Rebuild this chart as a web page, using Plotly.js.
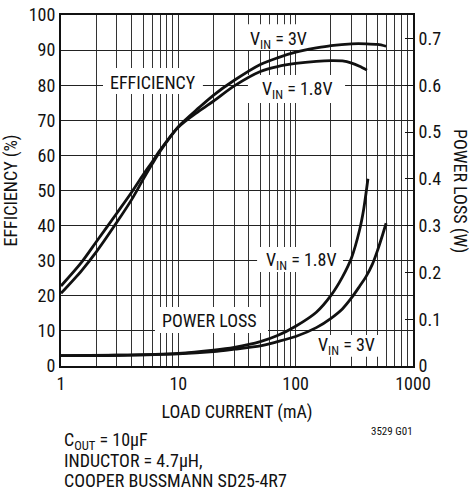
<!DOCTYPE html>
<html>
<head>
<meta charset="utf-8">
<script src="https://cdn.plot.ly/plotly-3.0.1.min.js"></script>
<style>html,body{margin:0;padding:0;background:#fff;}#chart{width:469px;height:493px;}</style>
</head>
<body>
<div id="chart"></div>
<script>
// Efficiency data (load current in mA, efficiency in %)
var effCurrent3V = [1, 1.5, 2, 3, 4, 5, 6, 7, 10, 15, 20, 30, 50, 70, 100, 150, 200, 300, 400, 500, 590];
var eff3V =        [22.8, 29.6, 35.4, 43.6, 49.5, 54.4, 58.2, 61.5, 68.2, 73.6, 77.2, 81.4, 85.9, 87.8, 89.4, 90.6, 91.3, 91.8, 91.8, 91.6, 91.1];
var effCurrent18V = [1, 1.5, 2, 3, 4, 5, 6, 7, 10, 15, 20, 30, 50, 70, 100, 150, 200, 250, 300, 350, 405];
var eff18V =        [20.7, 27.2, 32.5, 41, 47.4, 53.1, 57.6, 61.2, 68.0, 72.6, 75.5, 79.8, 83.9, 85.3, 86.2, 86.8, 87, 86.9, 86.3, 85.4, 84.3];

// Power loss data (load current in mA, loss in W)
var lossCurrent18V = [1, 3, 10, 20, 30, 50, 70, 100, 150, 200, 250, 300, 350, 380, 413];
var loss18V =        [0.022, 0.023, 0.027, 0.034, 0.04, 0.052, 0.065, 0.085, 0.115, 0.151, 0.19, 0.232, 0.29, 0.335, 0.40];
var lossCurrent3V = [1, 3, 10, 20, 30, 50, 70, 100, 150, 200, 250, 300, 350, 400, 450, 500, 550, 590];
var loss3V =        [0.022, 0.023, 0.026, 0.031, 0.036, 0.043, 0.052, 0.063, 0.082, 0.102, 0.122, 0.146, 0.17, 0.192, 0.217, 0.248, 0.28, 0.305];

// Axis ticks
var xTickVals = [];
var xTickText = [];
[1, 10, 100].forEach(function (d) {
  for (var k = 1; k <= 9; k++) {
    xTickVals.push(d * k);
    xTickText.push(k === 1 ? String(d) : '');
  }
});
xTickVals.push(1000); xTickText.push('1000');
var lossTickVals = [0, 0.1, 0.2, 0.3, 0.4, 0.5, 0.6, 0.7];
var lossTickText = ['0', '0.1', '0.2', '0.3', '0.4', '0.5', '0.6', '0.7'];

var FONT = '"Liberation Sans Narrow", "Roboto Condensed", "Liberation Sans", Arial, sans-serif';
var lineStyle = {color: '#111', width: 2.8, shape: 'spline', smoothing: 0.8};

var traces = [
  {x: effCurrent3V, y: eff3V, mode: 'lines', line: lineStyle, name: 'Eff VIN=3V', yaxis: 'y'},
  {x: effCurrent18V, y: eff18V, mode: 'lines', line: lineStyle, name: 'Eff VIN=1.8V', yaxis: 'y'},
  {x: lossCurrent18V, y: loss18V, mode: 'lines', line: lineStyle, name: 'Loss VIN=1.8V', yaxis: 'y2'},
  {x: lossCurrent3V, y: loss3V, mode: 'lines', line: lineStyle, name: 'Loss VIN=3V', yaxis: 'y2'}
];

function label(text, x, y, extra) {
  var a = {text: text, xref: 'paper', yref: 'paper', x: x, y: y, showarrow: false,
    font: {family: FONT, size: 18, color: '#111'},
    xanchor: 'center', yanchor: 'middle'};
  for (var k in extra) a[k] = extra[k];
  return a;
}
// white label backgrounds, drawn between the grid and the traces
function box(x0, x1, y0, y1) {
  return {type: 'rect', xref: 'x', yref: 'y', x0: x0, x1: x1, y0: y0, y1: y1,
    fillcolor: '#fff', line: {width: 0}, layer: 'between'};
}

var layout = {
  width: 469, height: 493,
  margin: {l: 61, r: 56, t: 15, b: 127},
  paper_bgcolor: '#fff', plot_bgcolor: '#fff',
  showlegend: false,
  font: {family: FONT, size: 18, color: '#111'},
  xaxis: {
    type: 'log', range: [0, 3],
    tickvals: xTickVals, ticktext: xTickText,
    ticks: '', showgrid: true, gridcolor: '#333', gridwidth: 1,
    showline: true, linecolor: '#111', linewidth: 2, mirror: true,
    zeroline: false,
    tickfont: {family: FONT, size: 18, color: '#111'},
    title: {text: 'LOAD CURRENT (mA)', font: {family: FONT, size: 18, color: '#111'}, standoff: 13}
  },
  yaxis: {
    range: [0, 100], dtick: 10, tick0: 0,
    ticks: '', showgrid: true, gridcolor: '#222', gridwidth: 1,
    showline: true, linecolor: '#111', linewidth: 2,
    zeroline: false,
    tickfont: {family: FONT, size: 18, color: '#111'},
    title: {text: 'EFFICIENCY (%)', font: {family: FONT, size: 18, color: '#111'}, standoff: 8}
  },
  yaxis2: {
    overlaying: 'y', side: 'right', range: [0, 0.75],
    tickvals: lossTickVals, ticktext: lossTickText,
    ticks: 'inside', ticklen: 8, tickcolor: '#111', tickwidth: 1,
    showgrid: false, zeroline: false,
    showline: true, linecolor: '#111', linewidth: 2,
    tickfont: {family: FONT, size: 18, color: '#111'}
  },
  shapes: [
    box(2.28, 16.2, 77.5, 84.9),
    box(35.6, 146.6, 90.0, 97.4),
    box(39.2, 263.6, 74.9, 82.9),
    box(46.9, 252.9, 26.8, 33.9),
    box(6.32, 58.1, 9.4, 16.8),
    box(140.6, 522.4, 2.6, 8.8)
  ],
  annotations: [
    label('EFFICIENCY', 0.261, 0.809),
    label('V<sub>IN</sub> = 3V', 0.619, 0.93),
    label('V<sub>IN</sub> = 1.8V', 0.672, 0.785),
    label('V<sub>IN</sub> = 1.8V', 0.684, 0.30),
    label('POWER LOSS', 0.423, 0.131),
    label('V<sub>IN</sub> = 3V', 0.812, 0.058),
    label('POWER LOSS (W)', 1.135, 0.5, {textangle: 90}),
    label('C<sub>OUT</sub> = 10µF', 0.003, -0.214, {xanchor: 'left'}),
    label('INDUCTOR = 4.7µH,', 0.003, -0.268, {xanchor: 'left'}),
    label('COOPER BUSSMANN SD25-4R7', 0.003, -0.325, {xanchor: 'left'}),
    label('3529 G01', 0.94, -0.188, {font: {family: FONT, size: 11, color: '#111'}})
  ]
};

Plotly.newPlot('chart', traces, layout, {displayModeBar: false, staticPlot: true});
</script>
</body>
</html>
